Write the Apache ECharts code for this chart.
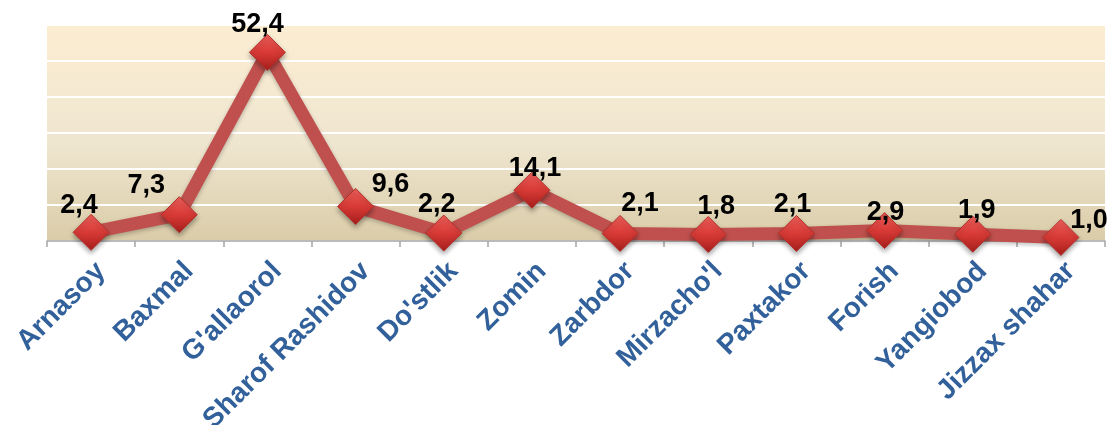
<!DOCTYPE html>
<html>
<head>
<meta charset="utf-8">
<script src="https://cdn.jsdelivr.net/npm/echarts@6/dist/echarts.min.js"></script>
<style>
  html, body { margin: 0; padding: 0; background: #fff; }
  #chart { width: 1111px; height: 425px; }
</style>
</head>
<body>
<div id="chart"></div>
<script>
'use strict';

const districts = ['Arnasoy', 'Baxmal', "G'allaorol", 'Sharof Rashidov', "Do'stlik", 'Zomin',
    'Zarbdor', "Mirzacho'l", 'Paxtakor', 'Forish', 'Yangiobod', 'Jizzax shahar']
const shares = [2.4, 7.3, 52.4, 9.6, 2.2, 14.1, 2.1, 1.8, 2.1, 2.9, 1.9, 1.0]
// where each value label sits relative to its marker
const labelOffsets = [[-12, -27], [-33, -29], [-10, -28], [35, -22], [-7, -29], [3, -22],
    [20, -30], [8, -28], [-4, -29], [1, -18], [4, -24], [28, -17]]

const myChart = echarts.init(document.getElementById('chart'));

const diamond = new echarts.graphic.LinearGradient(0, 0, 0, 1, [
    { offset: 0, color: '#f0605c' },
    { offset: 0.5, color: '#d83a36' },
    { offset: 1, color: '#a51e1b' }
])

const option = {
    animation: false,
    grid: {
        left: 47,
        right: 6,
        top: 25,
        bottom: 184,
        outerBoundsMode: 'none',
        containLabel: false,
        show: true,
        borderWidth: 0,
        backgroundColor: new echarts.graphic.LinearGradient(0, 0, 0, 1, [
            { offset: 0, color: '#fcedd2' },
            { offset: 0.55, color: '#efe6d0' },
            { offset: 1, color: '#dacca8' }
        ])
    },
    xAxis: {
        type: 'category',
        data: districts,
        axisLine: { lineStyle: { color: '#a5a5a5', width: 1.5 } },
        axisTick: { show: true, length: 6, lineStyle: { color: '#a5a5a5', width: 1.5 } },
        axisLabel: {
            interval: 0,
            rotate: 45,
            margin: 16,
            verticalAlign: 'top',
            color: '#31609a',
            fontFamily: 'Liberation Sans, Arial, sans-serif',
            fontWeight: 'bold',
            fontSize: 28
        }
    },
    yAxis: {
        type: 'value',
        min: 0,
        max: 60,
        interval: 10,
        axisLabel: { show: false },
        axisLine: { show: false },
        axisTick: { show: false },
        splitLine: { lineStyle: { color: '#ffffff', width: 2 } }
    },
    series: [{
        type: 'line',
        data: shares.map((v, i) => ({
            value: v,
            label: { offset: labelOffsets[i] }
        })),
        symbol: 'diamond',
        symbolSize: 36,
        lineStyle: {
            color: '#c0504d',
            width: 13,
            shadowColor: 'rgba(0,0,0,0.25)',
            shadowBlur: 4,
            shadowOffsetY: 2
        },
        itemStyle: {
            color: diamond,
            borderColor: '#b3302c',
            borderWidth: 1,
            shadowColor: 'rgba(0,0,0,0.35)',
            shadowBlur: 5,
            shadowOffsetY: 3
        },
        label: {
            show: true,
            position: 'inside',
            color: '#000',
            fontFamily: 'Liberation Sans, Arial, sans-serif',
            fontWeight: 'bold',
            fontSize: 27,
            formatter: p => p.value.toFixed(1).replace('.', ',')
        },
        z: 3
    }]
};

myChart.setOption(option);
</script>
</body>
</html>
